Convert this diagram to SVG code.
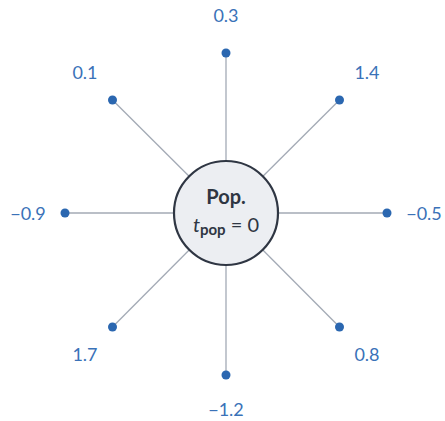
<svg xmlns="http://www.w3.org/2000/svg" width="445" height="421" viewBox="0 0 445 421">
<style>
.e{stroke:#a3aab5;stroke-width:1.3;fill:none}
.d{fill:#2b67b0}
.l{font-family:Lato,"Open Sans",sans-serif;font-size:18px;fill:#3a72b8;text-anchor:middle}
.c{fill:#eceef2;stroke:#2f3643;stroke-width:2.2}
.t{font-family:Lato,"Open Sans",sans-serif;fill:#2f3643;text-anchor:middle}
</style>
<rect width="445" height="421" fill="#ffffff"/>
<g id="connectors">
<line class="e" x1="226" y1="213" x2="226" y2="53"/>
<line class="e" x1="226" y1="213" x2="112.5" y2="100"/>
<line class="e" x1="226" y1="213" x2="339.5" y2="100"/>
<line class="e" x1="226" y1="213" x2="65" y2="213"/>
<line class="e" x1="226" y1="213" x2="387" y2="213"/>
<line class="e" x1="226" y1="213" x2="112.5" y2="327"/>
<line class="e" x1="226" y1="213" x2="226" y2="375"/>
<line class="e" x1="226" y1="213" x2="339.5" y2="327"/>
</g>
<g id="pop">
<circle class="c" cx="226" cy="213" r="52"/>
<text class="t" x="226" y="204" font-size="20" font-weight="bold">Pop.</text>
<text class="t" x="226" y="232" font-size="20"><tspan font-style="italic">t</tspan><tspan font-weight="bold" font-size="15" dy="3">pop</tspan><tspan dy="-3"> = 0</tspan></text>
</g>
<g id="n-top"><circle class="d" cx="226" cy="53" r="4.5"/><text class="l" x="226" y="22">0.3</text></g>
<g id="n-tl"><circle class="d" cx="112.5" cy="100" r="4.5"/><text class="l" x="85" y="79">0.1</text></g>
<g id="n-tr"><circle class="d" cx="339.5" cy="100" r="4.5"/><text class="l" x="367" y="79">1.4</text></g>
<g id="n-l"><circle class="d" cx="65" cy="213" r="4.5"/><text class="l" x="28" y="220">−0.9</text></g>
<g id="n-r"><circle class="d" cx="387" cy="213" r="4.5"/><text class="l" x="424" y="220">−0.5</text></g>
<g id="n-bl"><circle class="d" cx="112.5" cy="327" r="4.5"/><text class="l" x="85" y="361">1.7</text></g>
<g id="n-b"><circle class="d" cx="226" cy="375" r="4.5"/><text class="l" x="226" y="416">−1.2</text></g>
<g id="n-br"><circle class="d" cx="339.5" cy="327" r="4.5"/><text class="l" x="367" y="361">0.8</text></g>
</svg>
